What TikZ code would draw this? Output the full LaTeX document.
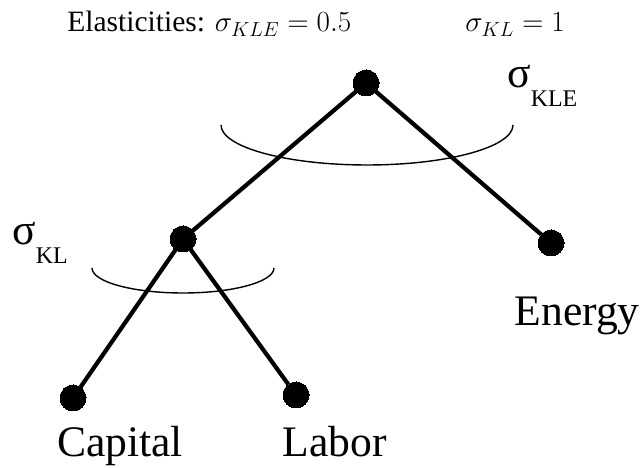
\documentclass[tikz,border=0pt]{standalone}
\usepackage{fontspec}
\setmainfont{Liberation Serif}
\usepackage{tikz}
\usepackage{tikz-network}

\tikzset{
  leaf/.style={inner sep=0pt, font=\fontsize{31}{31}\selectfont},
  elast/.style={line width=1pt},
  sigmalab/.style={inner sep=0pt, anchor=base west}
}
\newcommand{\sigbig}[1]{{\fontsize{31}{31}\selectfont σ}\raisebox{-13pt}{\fontsize{17}{17}\selectfont #1}}

\begin{document}
\begin{tikzpicture}
        \useasboundingbox (0,0) rectangle (16.05,11.7);
        \SetVertexStyle[FillColor=black, LineColor=black, LineWidth=0pt, MinSize=0.65]
        \SetEdgeStyle[Color=black, LineWidth=3pt]
        \Vertex[x=9.15, y=9.625, size=0.65]{top}
        \Vertex[x=4.575, y=5.725, size=0.65]{kl}
        \Vertex[x=13.775, y=5.625, size=0.65]{energy}
        \Vertex[x=1.825, y=1.75, size=0.65]{capital}
        \Vertex[x=7.4, y=1.825, size=0.65]{labor}

        \Edge[](top)(kl)
        \Edge[](top)(energy)
        \Edge[](kl)(capital)
        \Edge[](kl)(labor)

        % elasticity arcs
        \draw[elast] (5.525,8.575) coordinate (arcKLE)
          arc[start angle=180, end angle=360, x radius=3.65cm, y radius=1cm];
        \draw[elast] (2.3,5.0) coordinate (arcKL)
          arc[start angle=180, end angle=360, x radius=2.275cm, y radius=0.625cm];

        \node[leaf, anchor=base] (capitalLab) at (3.0,0.28) {Capital};
        \node[leaf, anchor=base] (laborLab) at (8.375,0.28) {Labor};
        \node[leaf, anchor=base east] (energyLab) at (16.0,3.55) {Energy};

        \node[sigmalab] (sigKLE) at (12.675,9.5) {\sigbig{KLE}};
        \node[sigmalab] (sigKL) at (0.3,5.575) {\sigbig{KL}};

        \node[inner sep=0pt, anchor=base west, font=\fontsize{21}{21}\selectfont]
          (title) at (1.675,10.9) {Elasticities: $\sigma_{KLE} = 0.5$};
        \node[inner sep=0pt, anchor=base east, font=\fontsize{21}{21}\selectfont]
          (titleKL) at (14.125,10.9) {$\sigma_{KL} = 1$};
        \end{tikzpicture}
\end{document}
